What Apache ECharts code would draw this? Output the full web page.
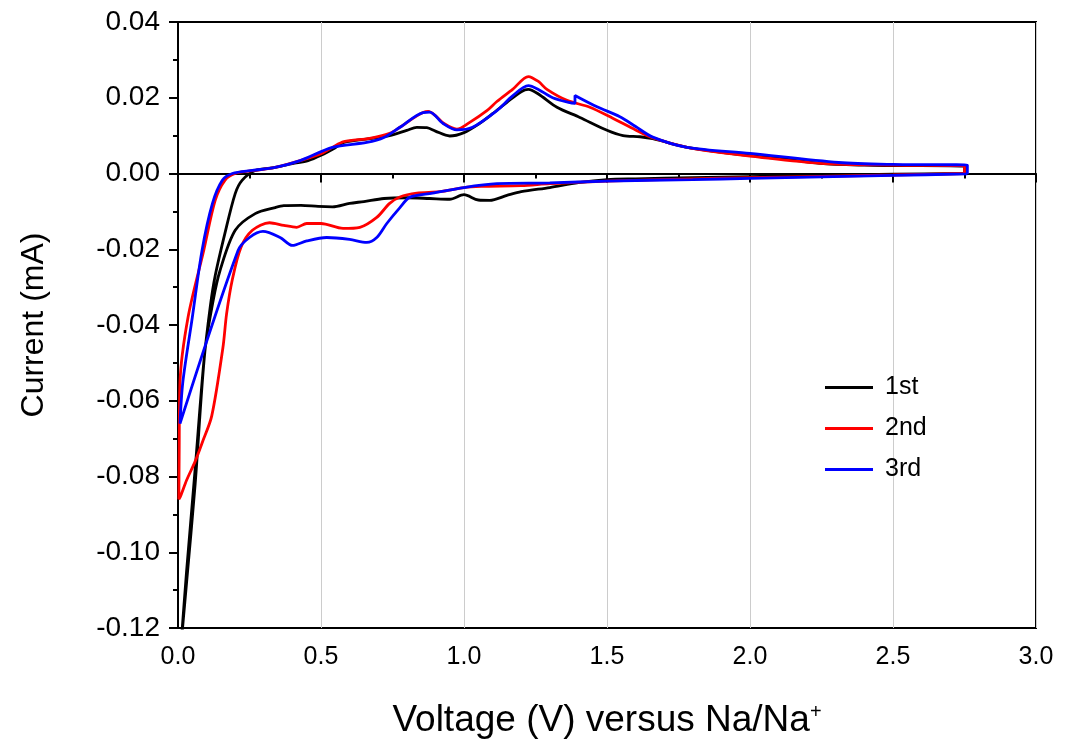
<!DOCTYPE html>
<html>
<head>
<meta charset="utf-8">
<script src="https://cdn.jsdelivr.net/npm/echarts@6/dist/echarts.min.js"></script>
<style>html,body{margin:0;padding:0;background:#fff}#c{width:1067px;height:748px}</style>
</head>
<body>
<div id="c"></div>
<script>
// Cycle 1 (black): cathodic branch 2.75 -> 0, then anodic branch 0 -> 2.75
const v1 = [2.75,2.5,2.3,2.0,1.8,1.6,1.5,1.4,1.3,1.2,1.15,1.09,1.05,1.0,0.95,0.88,0.8,0.72,0.65,0.6,0.54,0.49,0.43,0.37,0.34,0.27,0.2,0.147,0.123,0.094,0.06,0.03,0.01,
            0.03,0.06,0.09,0.113,0.13,0.164,0.2,0.224,0.27,0.34,0.4,0.455,0.5,0.55,0.58,0.67,0.74,0.8,0.835,0.87,0.9,0.95,1.0,1.05,1.1,1.15,1.2,1.225,1.26,1.325,1.405,1.5,1.556,1.615,1.66,1.78,1.9,2.0,2.1,2.245,2.4,2.5,2.75,2.75];
const i1 = [0.0,-0.0002,-0.0004,-0.0008,-0.0011,-0.0014,-0.0016,-0.0024,-0.0037,-0.0048,-0.0058,-0.0071,-0.0070,-0.0056,-0.0068,-0.0066,-0.0064,-0.0066,-0.0074,-0.0079,-0.0088,-0.0087,-0.0084,-0.0085,-0.009,-0.0106,-0.015,-0.0256,-0.0335,-0.047,-0.082,-0.108,-0.125,
            -0.105,-0.078,-0.05,-0.035,-0.027,-0.0158,-0.0053,-0.0018,0.0008,0.0016,0.0026,0.0034,0.0048,0.0068,0.0082,0.0092,0.0100,0.0114,0.0122,0.0121,0.0112,0.0099,0.0108,0.0130,0.0158,0.0188,0.0216,0.0222,0.0210,0.0175,0.0148,0.0114,0.0100,0.0097,0.0092,0.0069,0.0056,0.0047,0.0040,0.0027,0.0022,0.0021,0.0019,0.0];

// Cycle 2 (red)
const v2 = [2.75,2.5,2.0,1.8,1.5,1.3,1.2,1.06,1.0,0.915,0.835,0.776,0.74,0.695,0.636,0.577,0.5,0.45,0.415,0.37,0.32,0.26,0.22,0.19,0.17,0.157,0.118,0.085,0.06,0.03,0.01,0.003,
            0.004,0.007,0.035,0.09,0.13,0.164,0.2,0.27,0.34,0.427,0.5,0.54,0.58,0.67,0.74,0.776,0.82,0.857,0.875,0.9,0.93,0.975,1.02,1.08,1.115,1.17,1.225,1.26,1.29,1.36,1.44,1.52,1.6,1.66,1.78,1.9,2.0,2.245,2.5,2.75,2.75];
const i2 = [0.0,-0.0004,-0.0011,-0.0014,-0.0020,-0.0027,-0.0032,-0.0034,-0.0037,-0.0048,-0.0052,-0.0062,-0.0079,-0.0116,-0.0142,-0.0145,-0.0132,-0.0132,-0.0142,-0.0137,-0.0130,-0.0150,-0.0195,-0.028,-0.037,-0.046,-0.064,-0.071,-0.076,-0.081,-0.085,-0.086,
            -0.075,-0.055,-0.038,-0.0203,-0.0071,-0.0018,0.0,0.0008,0.0016,0.0034,0.0052,0.0069,0.0084,0.0093,0.0106,0.0122,0.0145,0.0161,0.0164,0.0153,0.0132,0.0117,0.0135,0.0166,0.0190,0.0222,0.0256,0.0243,0.0222,0.0193,0.0175,0.0146,0.0115,0.0094,0.0069,0.0055,0.0046,0.0027,0.0022,0.0020,0.0];

// Cycle 3 (blue)
const v3 = [2.76,2.5,2.0,1.8,1.5,1.3,1.115,1.0,0.89,0.81,0.776,0.73,0.695,0.66,0.6,0.52,0.45,0.40,0.357,0.297,0.25,0.21,0.007,
            0.017,0.05,0.084,0.12,0.155,0.19,0.26,0.34,0.427,0.54,0.66,0.72,0.776,0.857,0.88,0.927,0.975,1.03,1.115,1.17,1.225,1.26,1.31,1.37,1.388,1.388,1.465,1.545,1.6,1.66,1.78,2.0,2.31,2.5,2.76,2.76];
const i3 = [-0.0001,-0.0005,-0.0013,-0.0016,-0.0020,-0.0025,-0.0027,-0.0037,-0.0052,-0.0063,-0.0090,-0.0132,-0.0169,-0.0182,-0.0174,-0.0169,-0.0178,-0.0190,-0.0169,-0.0153,-0.0169,-0.0203,-0.066,
            -0.055,-0.038,-0.0203,-0.008,-0.0018,0.0,0.0008,0.0016,0.0034,0.0069,0.0082,0.0095,0.0122,0.0161,0.0162,0.0132,0.0115,0.0122,0.0166,0.0205,0.0232,0.0222,0.0200,0.0187,0.0185,0.0206,0.0176,0.0150,0.0124,0.0096,0.0069,0.0053,0.0029,0.0024,0.0022,-0.0001];

const seriesNames = ['1st','2nd','3rd'];
const seriesColors = ['#000000','#ff0000','#0000ff'];
const xTicks = [0.0,0.5,1.0,1.5,2.0,2.5,3.0];
const yTicks = [-0.12,-0.10,-0.08,-0.06,-0.04,-0.02,0.00,0.02,0.04];

const zip = (a,b) => a.map((x,k)=>[x,b[k]]);
const data = [zip(v1,i1), zip(v2,i2), zip(v3,i3)];

const chart = echarts.init(document.getElementById('c'));
const font = '"Liberation Sans", Arial, sans-serif';
chart.setOption({
  animation: false,
  backgroundColor: '#fff',
  grid: {left: 178, right: 31, top: 22, bottom: 120, show: true, borderColor: '#000', borderWidth: 2, backgroundColor: 'transparent'},
  legend: {
    orient: 'vertical', left: 820, top: 370, itemWidth: 48, itemHeight: 3, itemGap: 16,
    icon: 'rect',
    textStyle: {fontSize: 25, fontFamily: font, color: '#000', padding: [0,0,0,7]},
    data: seriesNames
  },
  xAxis: {
    type: 'value', min: 0, max: 3, interval: 0.5,
    name: 'Voltage (V) versus Na/Na{sup|+}',
    nameLocation: 'middle', nameGap: 74,
    nameTextStyle: {fontSize: 37, fontFamily: font, color: '#000',
      rich: {sup: {fontSize: 20, fontFamily: font, color: '#000', verticalAlign: 'top', padding: [0,0,17,0]}}},
    axisLine: {show: true, lineStyle: {color: '#000', width: 2}},
    axisTick: {show: true, inside: false, length: 9, lineStyle: {color: '#000', width: 2}},
    minorTick: {show: true, splitNumber: 2, length: 5, lineStyle: {color: '#000', width: 2}},
    axisLabel: {fontSize: 25, fontFamily: font, color: '#000', margin: 17,
      formatter: v => xTicks.includes(+v.toFixed(1)) ? v.toFixed(1) : ''},
    splitLine: {show: true, lineStyle: {color: '#cccccc', width: 1}}
  },
  yAxis: {
    type: 'value', min: -0.12, max: 0.04, interval: 0.02,
    name: 'Current (mA)', nameLocation: 'middle', nameGap: 128,
    nameTextStyle: {fontSize: 32, fontFamily: font, color: '#000'},
    axisLine: {show: true, lineStyle: {color: '#000', width: 2}},
    axisTick: {show: true, inside: false, length: 9, lineStyle: {color: '#000', width: 2}},
    minorTick: {show: true, splitNumber: 2, length: 5, lineStyle: {color: '#000', width: 2}},
    axisLabel: {fontSize: 28, fontFamily: font, color: '#000', margin: 18,
      formatter: v => v.toFixed(2)},
    splitLine: {show: false}
  },
  series: data.map((d,k) => ({
    name: seriesNames[k], type: 'line', data: d, symbol: 'none', showSymbol: false,
    smooth: 0.3, clip: true,
    lineStyle: {color: seriesColors[k], width: 2.8}, itemStyle: {color: seriesColors[k]}
  }))
});
</script>
</body>
</html>
